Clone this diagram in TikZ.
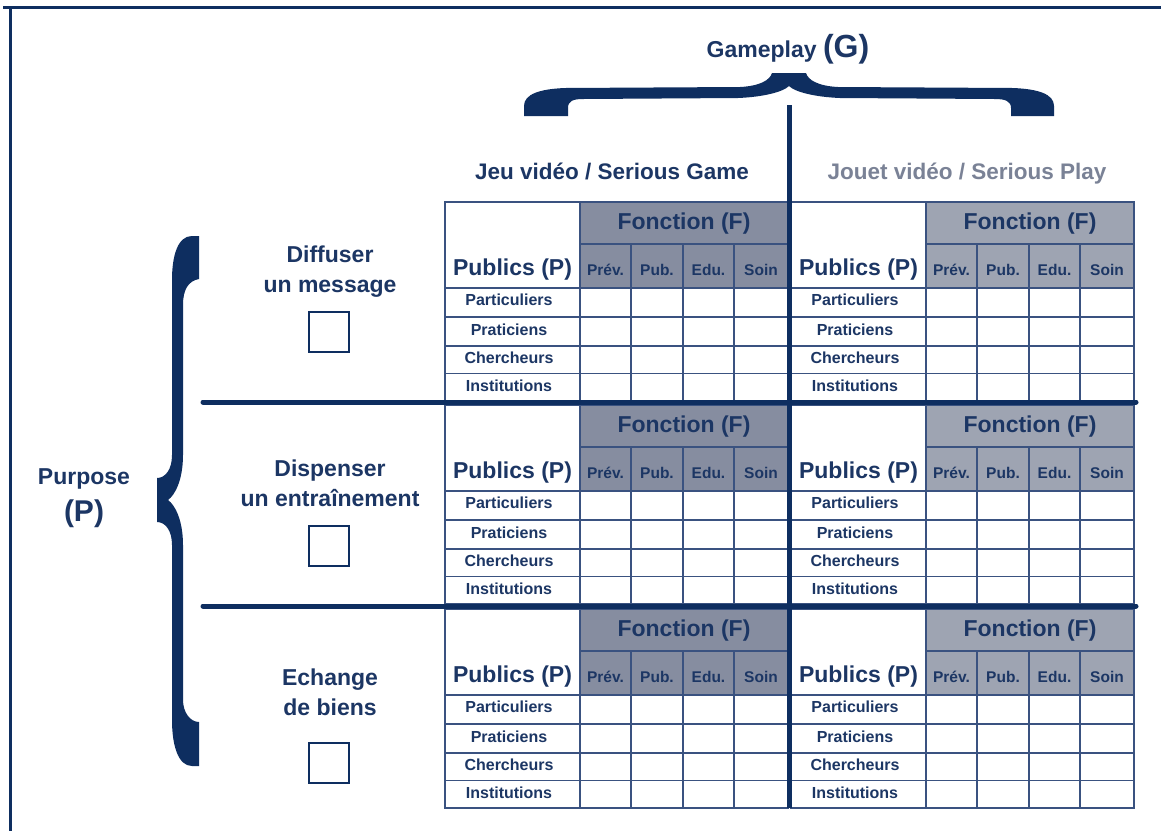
\documentclass[tikz,border=0pt]{standalone}
\usepackage{fontspec}
\setmainfont{Liberation Sans}
\definecolor{navy}{RGB}{14,46,96}
\definecolor{tnavy}{RGB}{28,54,100}
\definecolor{gridc}{RGB}{58,82,128}
\definecolor{hdrL}{RGB}{134,141,160}
\definecolor{hdrR}{RGB}{158,164,178}
\definecolor{graytxt}{RGB}{122,130,150}
\tikzset{
  grid/.style={draw=gridc, line width=1.2pt},
  tborder/.style={draw=gridc, line width=1.8pt},
  thick line/.style={draw=navy, line width=5pt, line cap=round},
  bigtxt/.style={font=\fontsize{23}{30}\selectfont\bfseries, text=tnavy, align=center, inner sep=0pt},
  subtxt/.style={font=\fontsize{15.5}{18}\selectfont\bfseries, text=tnavy, inner sep=0pt},
  rowtxt/.style={font=\fontsize{16}{19}\selectfont\bfseries, text=tnavy, inner sep=0pt},
  checkbox/.style={draw=navy, line width=2pt, minimum size=40pt, inner sep=0pt},
}
\begin{document}
\begin{tikzpicture}[x=1pt,y=-1pt]
\useasboundingbox (0,0) rectangle (1161,831);
\fill[white] (0,0) rectangle (1161,831);
% frame
\draw[navy, line width=3pt] (3,7.5) -- (1161,7.5);
\draw[navy, line width=3pt] (10,6) -- (10,831);

% tables
\foreach \blk/\yt in {1/202,2/405,3/609} {
  \foreach \side/\dx/\hf in {L/445/hdrL,R/791/hdrR} {
    \begin{scope}[shift={(\dx,\yt)}]
      \fill[\hf] (135,0) rectangle (343,86);
      \draw[grid] (135,42) -- (343,42);
      \foreach \x in {186,238,289} \draw[grid] (\x,42) -- (\x,199);
      \draw[grid] (135,0) -- (135,199);
      \foreach \y in {86,115,144,171.5} \draw[grid] (0,\y) -- (343,\y);
      \draw[tborder] (0,0) rectangle (343,199);
      \node[bigtxt] (pub\side\blk) at (67.5,67.5) {Publics (P)};
      \node[bigtxt] (fon\side\blk) at (239,22) {Fonction (F)};
      \node[subtxt] (prev\side\blk) at (160.5,67.5) {Prév.};
      \node[subtxt] (pubc\side\blk) at (212,67.5) {Pub.};
      \node[subtxt] (edu\side\blk) at (263.5,67.5) {Edu.};
      \node[subtxt] (soin\side\blk) at (316,67.5) {Soin};
      \node[rowtxt] (par\side\blk) at (64,98) {Particuliers};
      \node[rowtxt] (pra\side\blk) at (64,128) {Praticiens};
      \node[rowtxt] (che\side\blk) at (64,156) {Chercheurs};
      \node[rowtxt] (ins\side\blk) at (64,184) {Institutions};
    \end{scope}
  }
}

% thick separators
\coordinate (h1a) at (203,402); \coordinate (h1b) at (1136,402);
\coordinate (h2a) at (203,606); \coordinate (h2b) at (1136,606);
\coordinate (vt) at (789,105); \coordinate (vb) at (789,808);
\draw[thick line] (h1a) -- (h1b);
\draw[thick line] (h2a) -- (h2b);
\draw[thick line, line cap=butt] (vt) -- (vb);

% top brace
\fill[navy] (524,116) -- (524,106) .. controls (524,94) and (540,89) .. (565,88)
  -- (740,87) .. controls (760,86) and (770,80) .. (772,73) -- (806,73)
  .. controls (808,80) and (818,86) .. (838,87) -- (1013,88)
  .. controls (1038,89) and (1054,94) .. (1054,106) -- (1054,116) -- (1011,116)
  -- (1011,108) .. controls (1011,101) and (1005,99) .. (995,99) -- (840,98)
  .. controls (815,97) and (795,92) .. (789,86)
  .. controls (783,92) and (763,97) .. (738,98) -- (583,99)
  .. controls (573,99) and (568,101) .. (568,108) -- (568,116) -- cycle;

% left brace
\fill[navy] (199,236) -- (199,279) .. controls (188,281) and (183,290) .. (183,305)
  -- (183,455) .. controls (183,480) and (175,495) .. (168,500)
  .. controls (175,505) and (183,520) .. (183,545) -- (183,700)
  .. controls (183,712) and (190,722) .. (199,722) -- (199,766) -- (192,766)
  .. controls (178,766) and (172,745) .. (172,720) -- (172,545)
  .. controls (172,530) and (165,522) .. (157,522) -- (157,478)
  .. controls (165,478) and (172,470) .. (172,455) -- (172,280)
  .. controls (172,255) and (178,236) .. (192,236) -- cycle;

% titles
\node[inner sep=0pt, text=tnavy, anchor=base] (gameplay) at (788,57)
  {\fontsize{23}{28}\selectfont\bfseries Gameplay \fontsize{32}{36}\selectfont(G)};
\node[bigtxt, font=\fontsize{22.5}{28}\selectfont\bfseries, anchor=base] (jeu) at (612,179) {Jeu vidéo / Serious Game};
\node[bigtxt, font=\fontsize{22.5}{28}\selectfont\bfseries, text=graytxt, anchor=base] (jouet) at (967,179) {Jouet vidéo / Serious Play};

% purpose
\node[bigtxt] (purpose) at (84,479) {Purpose};
\node[bigtxt, font=\fontsize{30}{36}\selectfont\bfseries] (purposeP) at (84,514) {(P)};

% row labels
\node[bigtxt] (diff) at (330,272) {Diffuser\\un message};
\node[checkbox] (box1) at (328.5,332) {};
\node[bigtxt] (disp) at (330,483) {Dispenser\\un entraînement};
\node[checkbox] (box2) at (328.5,545.5) {};
\node[bigtxt] (ech) at (330,692) {Echange\\de biens};
\node[checkbox] (box3) at (328.5,762.5) {};
\end{tikzpicture}
\end{document}
